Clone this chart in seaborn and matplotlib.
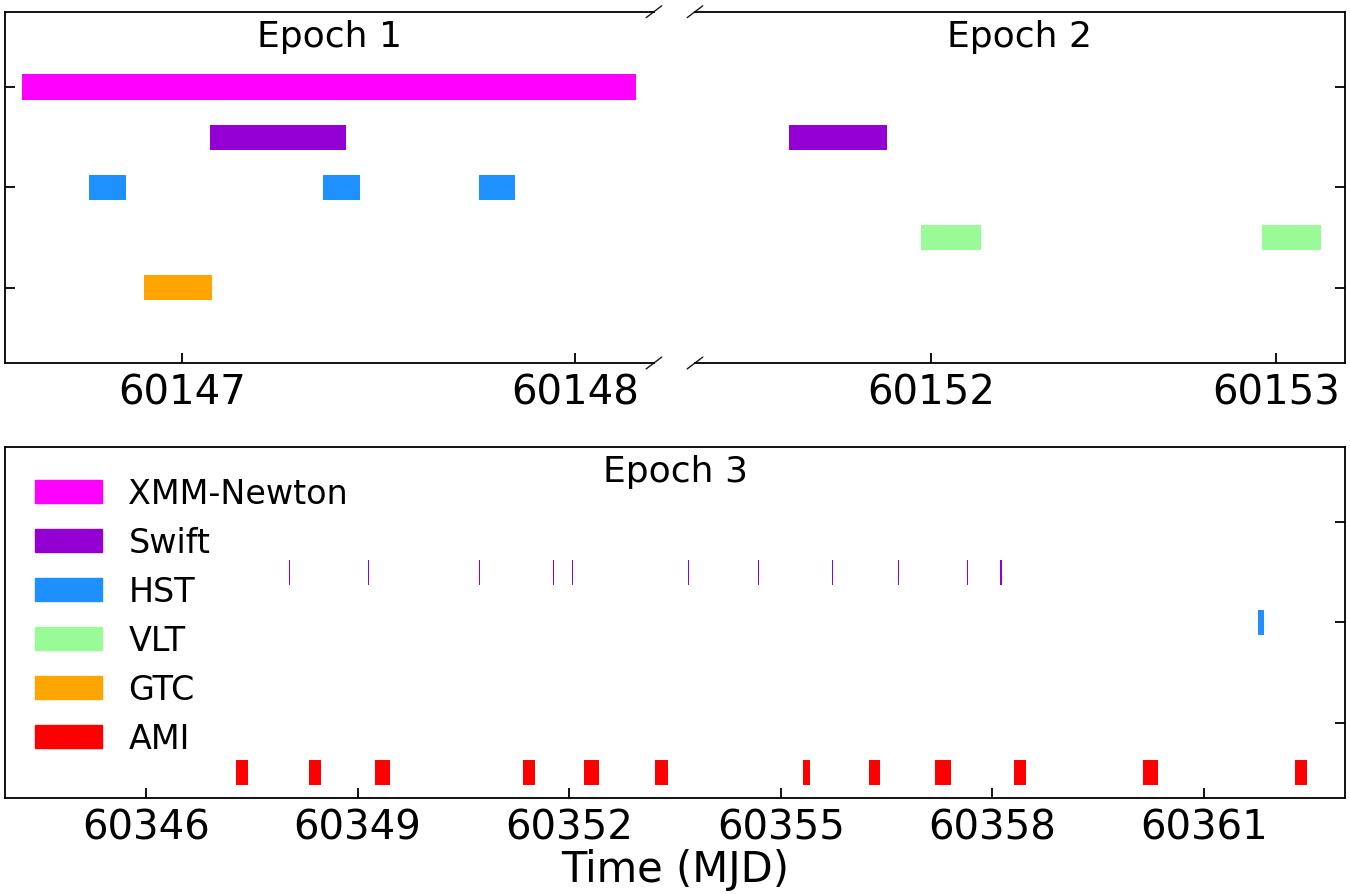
import matplotlib
matplotlib.use("Agg")
import matplotlib.pyplot as plt
from matplotlib.patches import Patch
import seaborn as sns
import pandas as pd

# instruments, top to bottom
instruments = ["XMM-Newton", "Swift", "HST", "VLT", "GTC", "AMI"]
colors = ["#FF00FF", "#9400D3", "#1E90FF", "#98FB98", "#FFA500", "#FF0000"]

# epoch 1 windows (MJD start, end)
e1_xmm = [(60146.592, 60148.155)]
e1_swift = [(60147.072, 60147.416)]
e1_hst = [(60146.763, 60146.858), (60147.358, 60147.452), (60147.754, 60147.848)]
e1_gtc = [(60146.903, 60147.077)]

# epoch 2
e2_swift = [(60151.588, 60151.872)]
e2_vlt = [(60151.971, 60152.145), (60152.960, 60153.130)]

# epoch 3
e3_swift_start = [60348.02, 60349.14, 60350.724, 60351.775, 60352.043, 60353.685,
                  60354.675, 60355.724, 60356.664, 60357.643, 60358.115]
e3_swift_len = [0.026, 0.026, 0.016, 0.015, 0.017, 0.015,
                0.015, 0.016, 0.016, 0.017, 0.015]
e3_hst = [(60361.76, 60361.85)]
e3_ami = [(60347.27, 60347.44), (60348.31, 60348.48), (60349.25, 60349.46),
          (60351.35, 60351.51), (60352.21, 60352.42), (60353.22, 60353.40),
          (60355.31, 60355.41), (60356.25, 60356.41), (60357.19, 60357.41),
          (60358.31, 60358.48), (60360.13, 60360.35), (60362.29, 60362.46)]

e1_ticks = [60147, 60148]
e2_ticks = [60152, 60153]
e3_ticks = [60346, 60349, 60352, 60355, 60358, 60361]

rows = []
def add(epoch, inst, windows):
    for s, e in windows:
        rows.append(dict(epoch=epoch, inst=inst, start=s, end=e))

add(1, "XMM-Newton", e1_xmm)
add(1, "Swift", e1_swift)
add(1, "HST", e1_hst)
add(1, "GTC", e1_gtc)
add(2, "Swift", e2_swift)
add(2, "VLT", e2_vlt)
add(3, "Swift", [(s, s + w) for s, w in zip(e3_swift_start, e3_swift_len)])
add(3, "HST", e3_hst)
add(3, "AMI", e3_ami)
obs = pd.DataFrame(rows)

sns.set_theme(style="ticks", rc={
    "text.color": "black", "axes.edgecolor": "black", "axes.labelcolor": "black",
    "xtick.color": "black", "ytick.color": "black",
})
plt.rcParams["font.family"] = ["DejaVu Sans"]

level = {name: 6 - i for i, name in enumerate(instruments)}
cmap = dict(zip(instruments, colors))

fig = plt.figure(figsize=(13.5, 8.95), dpi=100)
ax1 = fig.add_axes([0.0037, 0.5933, 0.4807, 0.3925])
ax2 = fig.add_axes([0.5148, 0.5933, 0.4815, 0.3925])
ax3 = fig.add_axes([0.0037, 0.1073, 0.9926, 0.3922])

for ax, ep in [(ax1, 1), (ax2, 2), (ax3, 3)]:
    d = obs[obs.epoch == ep]
    for _, r in d.iterrows():
        ax.barh(level[r.inst], r.end - r.start, left=r.start, height=0.5,
                color=cmap[r.inst], linewidth=0)
    ax.set_ylim(0.5, 7.5)
    ax.set_yticks([2, 4, 6])
    ax.set_yticklabels([])
    ax.tick_params(direction="in", length=7, width=1.3, labelsize=29, pad=7)
    for s in ax.spines.values():
        s.set_linewidth(1.3)
    ax.annotate(f"Epoch {ep}", xy=(0.5, 1), xycoords="axes fraction",
                xytext=(0, -5), textcoords="offset points",
                ha="center", va="top", fontsize=26)

ax1.set_xlim(60146.55, 60148.2)
ax1.set_xticks(e1_ticks)
ax1.set_xticklabels([str(t) for t in e1_ticks])
ax1.spines["right"].set_visible(False)

ax2.set_xlim(60151.316, 60153.2)
ax2.set_xticks(e2_ticks)
ax2.set_xticklabels([str(t) for t in e2_ticks])
ax2.spines["left"].set_visible(False)
ax2.yaxis.tick_right()
ax2.tick_params(axis="y", direction="in", length=7, width=1.3)

ax3.set_xlim(60344, 60363)
ax3.set_xticks(e3_ticks)
ax3.set_xticklabels([str(t) for t in e3_ticks])
ax3.yaxis.tick_right()
ax3.tick_params(axis="y", direction="in", length=7, width=1.3)
ax3.set_xlabel("Time (MJD)", fontsize=30, labelpad=0)

# break marks
d = 0.012
kw = dict(transform=ax1.transAxes, color="k", clip_on=False, linewidth=1)
ax1.plot((1 - d, 1 + d), (-d * 1.4, d * 1.4), **kw)
ax1.plot((1 - d, 1 + d), (1 - d * 1.4, 1 + d * 1.4), **kw)
kw.update(transform=ax2.transAxes)
ax2.plot((-d, d), (-d * 1.4, d * 1.4), **kw)
ax2.plot((-d, d), (1 - d * 1.4, 1 + d * 1.4), **kw)

handles = [Patch(color=c, label=n) for n, c in zip(instruments, colors)]
ax3.legend(handles=handles, loc="upper left", frameon=False, fontsize=24,
           labelspacing=0.48, handlelength=2.0)

fig.savefig("out.png", dpi=100)
